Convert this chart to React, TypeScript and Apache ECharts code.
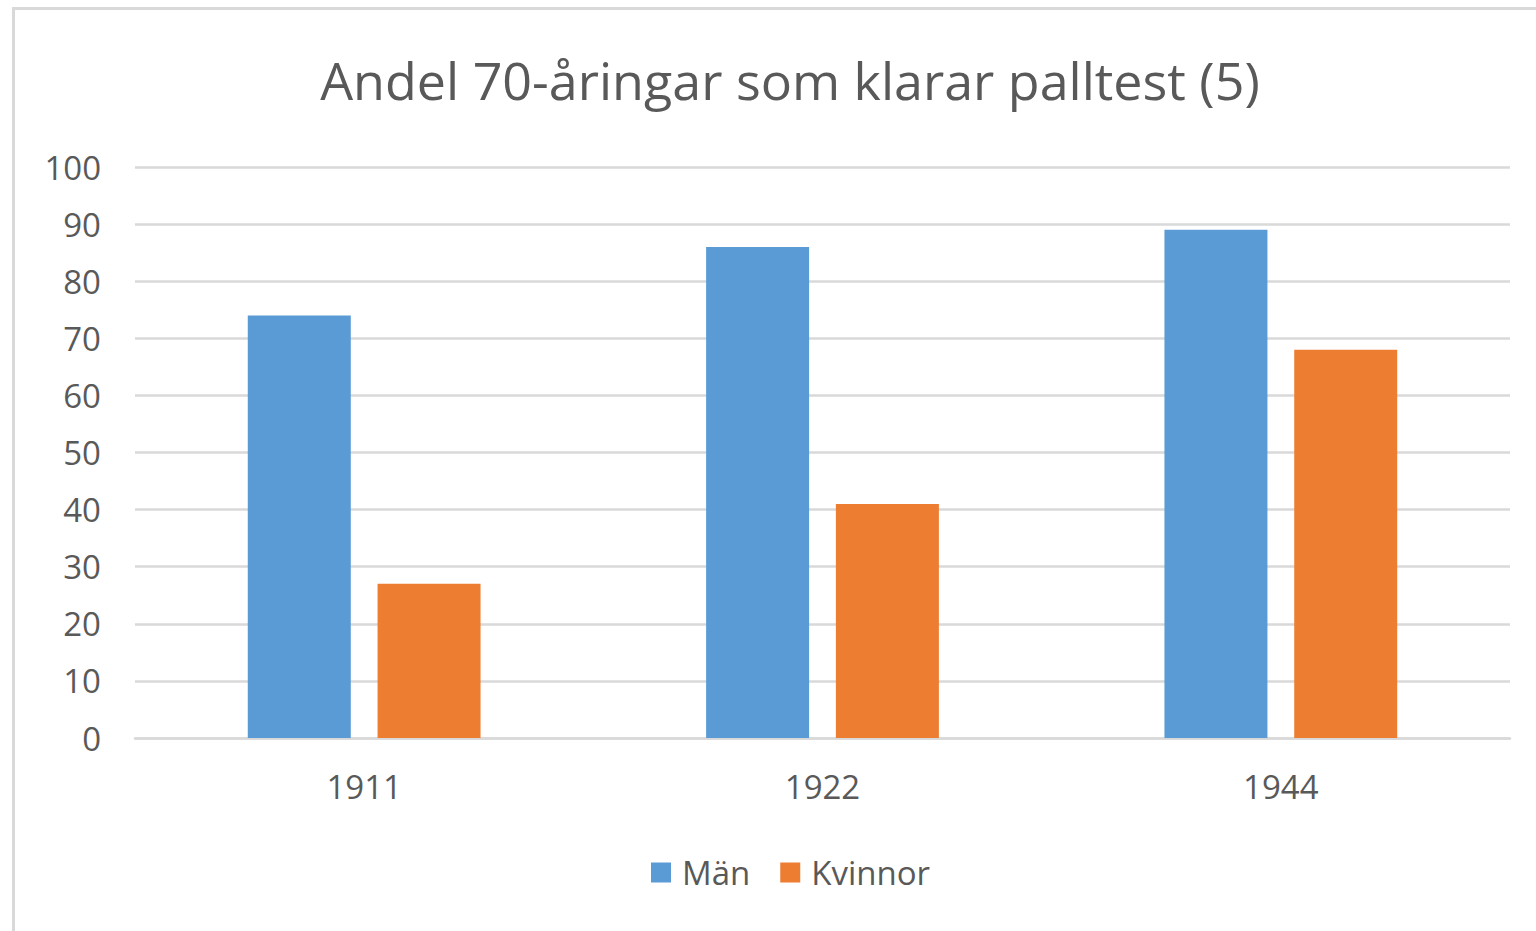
import React, { useEffect, useRef } from "react";
import * as echarts from "echarts";

const titleText = "Andel 70-åringar som klarar palltest (5)";
const categories = ["1911", "1922", "1944"];
const manValues = [74, 86, 89];
const kvinnorValues = [27, 41, 68];
const seriesNames = ["Män", "Kvinnor"];

const FONT = "'Open Sans', 'Noto Sans', sans-serif";

export default function App() {
  const ref = useRef<HTMLDivElement>(null);
  useEffect(() => {
    if (!ref.current) return;
    const chart = echarts.init(ref.current, undefined, { renderer: "svg" });
    chart.setOption({
      animation: false,
      backgroundColor: "#ffffff",
      title: {
        text: titleText,
        left: 785,
        top: 48,
        textAlign: "center",
        textStyle: {
          fontFamily: FONT,
          fontSize: 52,
          fontWeight: "normal",
          color: "#595959",
        },
      },
      graphic: [
        {
          type: "rect",
          shape: { x: 13.5, y: 8.5, width: 1700, height: 1100 },
          style: { fill: "none", stroke: "#d9d9d9", lineWidth: 3 },
          silent: true,
          z: -1,
        },
      ],
      legend: {
        data: seriesNames,
        left: 646,
        top: 851,
        itemWidth: 20,
        itemHeight: 20,
        itemGap: 30,
        icon: "rect",
        textStyle: {
          fontFamily: FONT,
          fontSize: 33,
          lineHeight: 30,
          color: "#595959",
          padding: [0, 0, 0, 6],
        },
      },
      grid: { left: 135, right: 26, top: 167, bottom: 193 },
      xAxis: {
        type: "category",
        data: categories,
        axisLine: { show: true, lineStyle: { color: "#d9d9d9", width: 2.5 } },
        axisTick: { show: false },
        axisLabel: {
          margin: 32,
          fontFamily: FONT,
          fontSize: 33,
          color: "#595959",
        },
      },
      yAxis: {
        type: "value",
        min: 0,
        max: 100,
        interval: 10,
        axisLine: { show: false },
        axisTick: { show: false },
        splitLine: { lineStyle: { color: "#d9d9d9", width: 2.5 } },
        axisLabel: {
          margin: 34,
          fontFamily: FONT,
          fontSize: 33,
          color: "#595959",
        },
      },
      series: [
        {
          name: seriesNames[0],
          type: "bar",
          data: manValues,
          barWidth: 103,
          barGap: "26%",
          itemStyle: { color: "#5B9BD5" },
        },
        {
          name: seriesNames[1],
          type: "bar",
          data: kvinnorValues,
          barWidth: 103,
          barGap: "26%",
          itemStyle: { color: "#ED7D31" },
        },
      ],
    });
    return () => chart.dispose();
  }, []);
  return (
    <div
      ref={ref}
      style={{ position: "fixed", left: 0, top: 0, width: 1536, height: 931 }}
    />
  );
}
